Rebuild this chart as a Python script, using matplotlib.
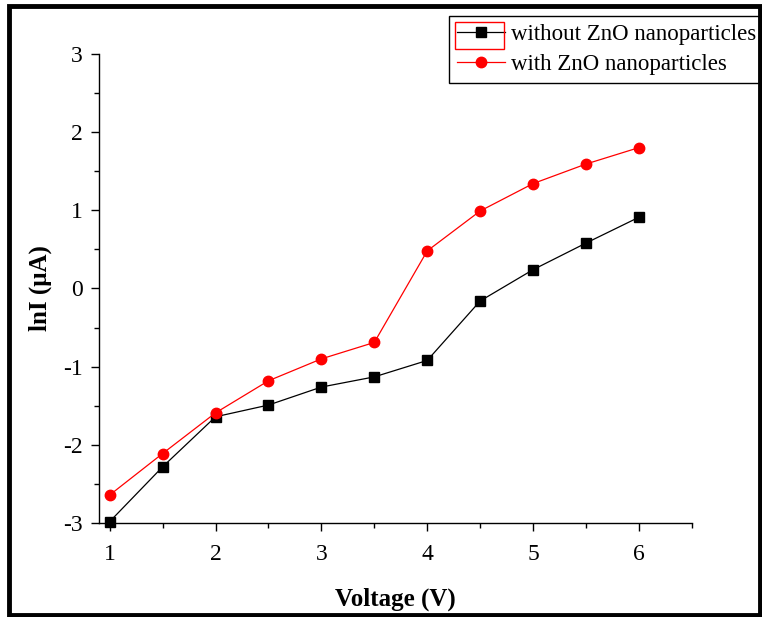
import matplotlib
matplotlib.use('Agg')
import matplotlib.pyplot as plt
from matplotlib.patches import Rectangle
from matplotlib.ticker import MultipleLocator

voltage = [1, 1.5, 2, 2.5, 3, 3.5, 4, 4.5, 5, 5.5, 6]
without_zno = [-2.98, -2.28, -1.64, -1.49, -1.26, -1.13, -0.92, -0.16, 0.24, 0.58, 0.91]
with_zno = [-2.64, -2.11, -1.59, -1.18, -0.90, -0.69, 0.48, 0.99, 1.34, 1.59, 1.80]

plt.rcParams['font.family'] = ['Liberation Serif', 'DejaVu Serif']
plt.rcParams['axes.unicode_minus'] = False

fig = plt.figure(figsize=(7.62, 6.17), dpi=100)
ax = fig.add_axes([0.130, 0.152, 0.778, 0.761])

ax.plot(voltage, without_zno, color='black', lw=0.9, marker='s', ms=7.5,
        label='without ZnO nanoparticles', clip_on=False, zorder=3)
ax.plot(voltage, with_zno, color='red', lw=0.9, marker='o', ms=7.5,
        label='with ZnO nanoparticles', clip_on=False, zorder=3)

ax.set_xlim(0.9, 6.5)
ax.set_ylim(-3, 3)
ax.xaxis.set_major_locator(MultipleLocator(1))
ax.xaxis.set_minor_locator(MultipleLocator(0.5))
ax.yaxis.set_major_locator(MultipleLocator(1))
ax.yaxis.set_minor_locator(MultipleLocator(0.5))
ax.spines['top'].set_visible(False)
ax.spines['right'].set_visible(False)
for s in ['left', 'bottom']:
    ax.spines[s].set_linewidth(1.0)
ax.tick_params(which='major', direction='out', length=6, width=1, labelsize=17)
ax.tick_params(axis='x', which='major', pad=9)
ax.tick_params(axis='y', which='major', pad=6)
ax.tick_params(which='minor', direction='out', length=3.5, width=1)

ax.set_xlabel('Voltage (V)', fontsize=18, fontweight='bold', labelpad=16)
ax.set_ylabel('lnI (\u03bcA)', fontsize=18, fontweight='bold', labelpad=8)

leg = ax.legend(loc='upper left', bbox_to_anchor=(449 / 762, 1 - 16 / 617), bbox_transform=fig.transFigure,
                borderaxespad=0, fancybox=False, edgecolor='black', framealpha=1,
                fontsize=16.5, handlelength=2.1, handletextpad=0.25, borderpad=0.35,
                labelspacing=0.4)
leg.get_frame().set_linewidth(1.0)

# red selection box around first legend handle
fig.patches.append(Rectangle((455 / 762, 1 - 49 / 617), 49 / 762, 27 / 617,
                             transform=fig.transFigure, fill=False,
                             edgecolor='red', lw=1.0))
# outer border
fig.patches.append(Rectangle((9 / 762, 2.5 / 617), 750.5 / 762, 608.5 / 617, transform=fig.transFigure,
                             fill=False, edgecolor='black', lw=3.5))

fig.savefig('out.png', dpi=100)
